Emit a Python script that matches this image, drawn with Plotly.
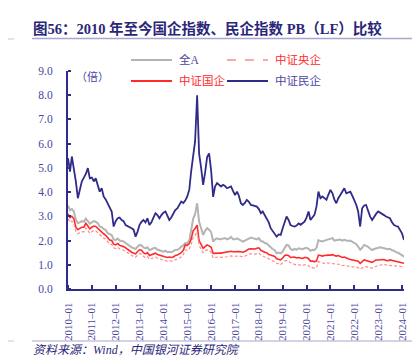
import plotly.graph_objects as go
import pandas as pd

# ---------------- data (monthly) ----------------
dates = pd.date_range("2010-01-01", "2024-02-01", freq="MS").strftime("%Y-%m-%d").tolist()

quan_a = [  # 全A
    3.45, 3.25, 3.30, 3.20, 2.85, 2.72, 2.75, 2.80, 2.78, 2.90, 2.80, 2.70,
    2.75, 2.80, 2.78, 2.72, 2.58, 2.55, 2.48, 2.44, 2.30, 2.25, 2.23, 2.05,
    2.02, 2.08, 2.00, 1.98, 1.96, 1.90, 1.82, 1.78, 1.72, 1.70, 1.65, 1.75,
    1.82, 1.80, 1.72, 1.68, 1.72, 1.60, 1.65, 1.68, 1.70, 1.62, 1.60, 1.56,
    1.54, 1.58, 1.52, 1.54, 1.52, 1.56, 1.61, 1.62, 1.66, 1.75, 1.80, 1.90,
    1.89, 2.00, 2.40, 2.90, 3.10, 3.54, 2.78, 2.50, 2.23, 2.40, 2.51, 2.45,
    2.35, 1.96, 2.05, 2.09, 2.05, 2.06, 2.09, 2.10, 2.05, 2.08, 2.15, 2.05,
    2.05, 2.09, 2.05, 2.02, 1.96, 2.00, 2.05, 2.09, 2.12, 2.10, 2.09, 2.05,
    2.10, 1.98, 1.96, 1.90, 1.88, 1.78, 1.72, 1.65, 1.60, 1.47, 1.50, 1.47,
    1.55, 1.70, 1.82, 1.80, 1.65, 1.61, 1.66, 1.62, 1.68, 1.66, 1.64, 1.68,
    1.70, 1.66, 1.58, 1.62, 1.61, 1.70, 2.02, 1.98, 1.96, 2.00, 2.02, 2.06,
    2.09, 2.10, 2.00, 2.02, 2.05, 2.04, 2.00, 2.03, 2.00, 1.98, 2.00, 1.96,
    1.90, 1.85, 1.75, 1.62, 1.70, 1.82, 1.78, 1.74, 1.66, 1.61, 1.65, 1.68,
    1.72, 1.72, 1.70, 1.68, 1.65, 1.64, 1.66, 1.60, 1.58, 1.52, 1.50, 1.45,
    1.38, 1.34,
]

yangqi = [  # 中证央企
    2.90, 2.75, 2.80, 2.70, 2.38, 2.28, 2.32, 2.36, 2.36, 2.52, 2.42, 2.30,
    2.36, 2.42, 2.40, 2.32, 2.22, 2.18, 2.10, 2.05, 1.93, 1.86, 1.84, 1.70,
    1.67, 1.72, 1.65, 1.63, 1.60, 1.55, 1.48, 1.44, 1.38, 1.36, 1.31, 1.40,
    1.46, 1.44, 1.35, 1.30, 1.34, 1.23, 1.27, 1.30, 1.32, 1.27, 1.25, 1.21,
    1.18, 1.19, 1.15, 1.17, 1.15, 1.17, 1.22, 1.24, 1.28, 1.33, 1.42, 1.62,
    1.60, 1.66, 1.82, 2.12, 2.22, 2.38, 1.80, 1.62, 1.50, 1.56, 1.62, 1.58,
    1.52, 1.28, 1.30, 1.32, 1.30, 1.30, 1.32, 1.33, 1.33, 1.35, 1.37, 1.35,
    1.36, 1.37, 1.36, 1.35, 1.33, 1.35, 1.40, 1.44, 1.45, 1.43, 1.44, 1.46,
    1.48, 1.40, 1.35, 1.32, 1.30, 1.23, 1.20, 1.16, 1.14, 1.06, 1.03, 1.01,
    1.08, 1.16, 1.18, 1.15, 1.08, 1.04, 1.02, 0.99, 1.00, 0.99, 0.97, 1.00,
    1.00, 0.96, 0.88, 0.88, 0.86, 0.88, 1.13, 1.10, 1.08, 1.06, 1.08, 1.07,
    1.06, 1.08, 1.04, 1.02, 1.03, 1.00, 0.97, 0.98, 0.96, 0.93, 0.92, 0.91,
    0.91, 0.90, 0.88, 0.82, 0.86, 0.92, 0.92, 0.90, 0.88, 0.86, 0.90, 0.95,
    0.97, 0.98, 1.00, 1.02, 0.99, 0.98, 1.00, 0.98, 0.98, 0.96, 0.94, 0.93,
    0.92, 0.92,
]

guoqi = [  # 中证国企
    3.10, 2.95, 3.00, 2.90, 2.55, 2.45, 2.50, 2.55, 2.55, 2.71, 2.60, 2.48,
    2.55, 2.60, 2.58, 2.50, 2.40, 2.35, 2.28, 2.22, 2.10, 2.02, 2.00, 1.85,
    1.82, 1.88, 1.80, 1.78, 1.75, 1.70, 1.62, 1.58, 1.52, 1.50, 1.45, 1.55,
    1.62, 1.60, 1.50, 1.45, 1.50, 1.38, 1.42, 1.45, 1.48, 1.42, 1.40, 1.36,
    1.33, 1.34, 1.30, 1.32, 1.30, 1.32, 1.38, 1.40, 1.45, 1.50, 1.60, 1.82,
    1.80, 1.88, 2.05, 2.40, 2.50, 2.64, 2.00, 1.82, 1.68, 1.75, 1.82, 1.78,
    1.72, 1.47, 1.48, 1.50, 1.48, 1.48, 1.50, 1.52, 1.52, 1.54, 1.56, 1.54,
    1.55, 1.56, 1.55, 1.54, 1.52, 1.55, 1.60, 1.65, 1.66, 1.64, 1.65, 1.68,
    1.70, 1.60, 1.55, 1.52, 1.50, 1.42, 1.40, 1.36, 1.34, 1.25, 1.22, 1.20,
    1.28, 1.38, 1.40, 1.38, 1.30, 1.30, 1.32, 1.28, 1.30, 1.28, 1.26, 1.30,
    1.30, 1.25, 1.15, 1.15, 1.13, 1.15, 1.40, 1.38, 1.36, 1.38, 1.40, 1.40,
    1.40, 1.42, 1.38, 1.36, 1.38, 1.35, 1.30, 1.32, 1.30, 1.25, 1.22, 1.20,
    1.20, 1.18, 1.15, 1.06, 1.13, 1.20, 1.18, 1.15, 1.12, 1.10, 1.15, 1.20,
    1.20, 1.20, 1.22, 1.22, 1.18, 1.17, 1.20, 1.18, 1.17, 1.15, 1.12, 1.10,
    1.08, 1.06,
]

minqi = [  # 中证民企
    5.40, 4.85, 5.47, 5.00, 4.44, 3.75, 4.10, 4.45, 4.60, 4.75, 4.99, 4.57,
    4.60, 4.44, 4.57, 4.30, 4.02, 4.16, 3.82, 3.70, 3.55, 3.40, 3.20, 2.58,
    2.80, 2.92, 2.95, 2.85, 2.80, 2.64, 2.60, 2.58, 2.51, 2.45, 2.16, 2.37,
    2.65, 2.78, 2.85, 2.75, 2.92, 2.64, 2.75, 2.95, 3.13, 3.05, 2.92, 3.05,
    3.15, 3.20, 3.00, 2.85, 2.95, 3.10, 3.26, 3.33, 3.50, 3.61, 3.55, 3.65,
    3.82, 4.10, 4.85, 5.40, 6.10, 8.00, 5.60, 5.00, 4.30, 4.80, 5.45, 5.60,
    4.90, 3.80, 4.23, 4.37, 4.30, 4.23, 4.30, 4.25, 4.16, 4.20, 4.23, 4.05,
    3.88, 4.02, 3.85, 3.54, 3.47, 3.55, 3.68, 3.60, 3.47, 3.45, 3.42, 3.40,
    3.30, 3.13, 3.20, 3.05, 2.92, 2.75, 2.51, 2.40, 2.30, 2.16, 2.25, 2.23,
    2.51, 2.80, 2.99, 2.85, 2.64, 2.60, 2.58, 2.62, 2.71, 2.65, 2.70, 2.78,
    2.95, 3.20, 2.85, 2.95, 3.06, 3.40, 4.02, 3.75, 3.82, 3.75, 3.68, 3.90,
    4.09, 3.95, 3.70, 3.54, 3.75, 3.88, 4.00, 4.16, 3.95, 3.98, 4.02, 3.85,
    3.68, 3.47, 3.20, 2.58, 3.33, 3.45, 3.47, 3.20, 2.99, 2.85, 3.00, 3.10,
    3.20, 3.15, 3.13, 3.05, 2.99, 2.95, 2.92, 2.75, 2.64, 2.60, 2.58, 2.44,
    2.30, 2.02,
]

tick_dates = [f"{y}-01-01" for y in range(2010, 2025)]
tick_labels = [f"{y}\u201301" for y in range(2010, 2025)]
y_ticks = [0, 1, 2, 3, 4, 5, 6, 7, 8, 9]
y_tick_labels = [f"{v:.1f}" for v in y_ticks]

# ---------------- styles ----------------
INDIGO = "#2f2b88"
TEXT_INDIGO = "#4a469e"
GRAY = "#b4b4b4"
RED = "#ff2a2a"
PINK = "#ff8a8a"
FONT = "Liberation Serif, Noto Sans CJK SC, serif"

fig = go.Figure()
fig.add_trace(go.Scatter(x=dates, y=quan_a, name="全A", mode="lines",
                         line=dict(color=GRAY, width=2), showlegend=False))
fig.add_trace(go.Scatter(x=dates, y=guoqi, name="中证国企", mode="lines",
                         line=dict(color=RED, width=1.6), showlegend=False))
fig.add_trace(go.Scatter(x=dates, y=yangqi, name="中证央企", mode="lines",
                         line=dict(color=PINK, width=1.2, dash="3px,2px"), showlegend=False))
fig.add_trace(go.Scatter(x=dates, y=minqi, name="中证民企", mode="lines",
                         line=dict(color=INDIGO, width=1.8), showlegend=False))

L, R, T, B = 60, 24, 63, 81
W, H = 420, 362
pw, ph = W - L - R, H - T - B


def px(x):
    return (x - L) / pw


def py(y):
    return (H - B - y) / ph


shapes = []
annotations = []

# manual legend
legend_items = [
    ("全A", GRAY, "solid", 2, TEXT_INDIGO, 123, 52),
    ("中证央企", PINK, "dash", 1.3, RED, 219, 52),
    ("中证国企", RED, "solid", 2, RED, 123, 73),
    ("中证民企", INDIGO, "solid", 2, TEXT_INDIGO, 219, 73),
]
for name, col, dash, wd, tcol, x0, y0 in legend_items:
    shapes.append(dict(type="line", xref="paper", yref="paper",
                       x0=px(x0), x1=px(x0 + 41), y0=py(y0), y1=py(y0),
                       line=dict(color=col, width=wd, dash=dash)))
    annotations.append(dict(text=name, xref="paper", yref="paper",
                            x=px(x0 + 46), y=py(y0), xanchor="left", yanchor="middle",
                            showarrow=False, font=dict(family=FONT, size=11.5, color=tcol)))

# unit label
annotations.append(dict(text="（倍）", xref="paper", yref="paper", x=px(66), y=py(68),
                        xanchor="left", yanchor="middle", showarrow=False,
                        font=dict(family=FONT, size=11, color=TEXT_INDIGO)))

# title
annotations.append(dict(text="<b>图56：2010 年至今国企指数、民企指数 PB（LF）比较</b>",
                        xref="paper", yref="paper", x=px(23), y=py(20.5),
                        xanchor="left", yanchor="middle", showarrow=False,
                        font=dict(family="Liberation Serif, Noto Sans CJK SC", size=14.5, color="#2b2778")))
shapes.append(dict(type="line", xref="paper", yref="paper", x0=px(24), x1=px(416),
                   y0=py(30.5), y1=py(30.5), line=dict(color="#a8a6d0", width=1.5)))
shapes.append(dict(type="line", xref="paper", yref="paper", x0=px(0), x1=px(6),
                   y0=py(31), y1=py(31), line=dict(color="#c8c8dc", width=1)))

# footer
shapes.append(dict(type="line", xref="paper", yref="paper", x0=px(24), x1=px(414),
                   y0=py(333), y1=py(333), line=dict(color="#a8a6d0", width=1.2)))
shapes.append(dict(type="line", xref="paper", yref="paper", x0=px(0), x1=px(6),
                   y0=py(333), y1=py(333), line=dict(color="#c8c8dc", width=1)))
annotations.append(dict(text="<i>资料来源：Wind，中国银河证券研究院</i>",
                        xref="paper", yref="paper", x=px(23), y=py(342),
                        xanchor="left", yanchor="middle", showarrow=False,
                        font=dict(family=FONT, size=12, color="#2b2778")))

fig.update_layout(
    width=W, height=H,
    margin=dict(l=L, r=R, t=T, b=B, pad=0),
    paper_bgcolor="white", plot_bgcolor="white",
    showlegend=False,
    shapes=shapes, annotations=annotations,
    font=dict(family=FONT, color=TEXT_INDIGO),
)
# major ticks are invisible spacers (push labels away); minor ticks draw the inside marks
fig.update_xaxes(
    range=["2010-01-01", "2024-02-01"],
    tickmode="array", tickvals=tick_dates, ticktext=tick_labels,
    tickangle=-90, ticks="outside", ticklen=7, tickwidth=1, tickcolor="rgba(0,0,0,0)",
    minor=dict(ticks="inside", dtick="M12", tick0="2010-01-01", ticklen=4,
               tickwidth=1.5, tickcolor=INDIGO, showgrid=False),
    showline=True, linecolor=INDIGO, linewidth=2, showgrid=False, zeroline=False,
    tickfont=dict(family=FONT, size=11, color=TEXT_INDIGO),
)
fig.update_yaxes(
    range=[0, 9], tickmode="array", tickvals=y_ticks, ticktext=y_tick_labels,
    ticks="outside", ticklen=11, tickwidth=1, tickcolor="rgba(0,0,0,0)",
    minor=dict(ticks="inside", dtick=1, tick0=0, ticklen=3,
               tickwidth=1.5, tickcolor=INDIGO, showgrid=False),
    showline=True, linecolor=INDIGO, linewidth=2, showgrid=False, zeroline=False,
    tickfont=dict(family=FONT, size=11.5, color=TEXT_INDIGO),
)

fig.write_html("out.html")
